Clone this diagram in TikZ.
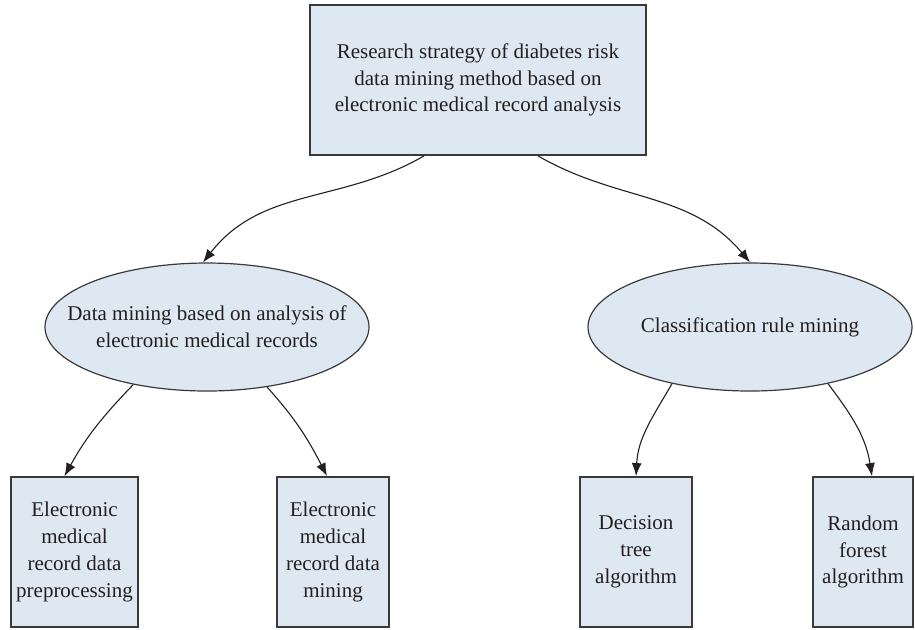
\documentclass[tikz,border=0pt]{standalone}
\usepackage{fontspec}
\setmainfont{Liberation Serif}
\usetikzlibrary{arrows.meta,shapes.geometric}
\definecolor{boxfill}{HTML}{DDE8F3}
\definecolor{boxline}{HTML}{3A3A3A}
\definecolor{ink}{HTML}{231F20}

\begin{document}
\begin{tikzpicture}[x=0.5pt, y=0.5pt, font=\fontsize{10.5pt}{13.4pt}\selectfont, text=ink,
	box/.style={rectangle, draw=boxline, line width=0.9pt, fill=boxfill, align=center, inner sep=1pt, minimum height=75pt},
	oval/.style={ellipse, draw=boxline, line width=0.6pt, fill=boxfill, inner sep=0pt, minimum width=162pt, minimum height=64pt},
	link/.style={draw=ink, line width=0.55pt, -{Latex[length=6.5pt,width=5pt]}}]
	\useasboundingbox (0,0) rectangle (915,-629);

	\node[box, minimum width=168pt] (R) at (478,-80) {Research strategy of diabetes risk\\data mining method based on\\electronic medical record analysis};
	\node[oval] (DM) at (207,-327) {\makebox[0pt]{\parbox{200pt}{\centering Data mining based on analysis of\\electronic medical records}}};
	\node[oval] (CR) at (750,-327) {\makebox[0pt]{Classification rule mining}};
	\node[box, minimum width=63.5pt] (B1) at (74.5,-552) {Electronic\\medical\\record data\\preprocessing};
	\node[box, minimum width=56pt] (B2) at (333,-552) {Electronic\\medical\\record data\\mining};
	\node[box, minimum width=56pt] (B3) at (636,-552) {Decision\\tree\\algorithm};
	\node[box, minimum width=50pt] (B4) at (863,-552) {Random\\forest\\algorithm};

	\draw[link] ([xshift=-27pt]R.south) to [out=-150, in=52] ([xshift=-2pt]DM.north);
	\draw[link] ([xshift=30pt]R.south) to [out=-30, in=130] (CR.north);
	\draw[link] (DM.-142) to [out=-134, in=61] ([xshift=-5pt]B1.north);
	\draw[link] (DM.-45) to [out=-48, in=117] ([xshift=-3pt]B2.north);
	\draw[link] (CR.-144) to [out=-120, in=87] (B3.north);
	\draw[link] (CR.-36) to [out=-53, in=99] ([xshift=4.5pt]B4.north);
\end{tikzpicture}
\end{document}
